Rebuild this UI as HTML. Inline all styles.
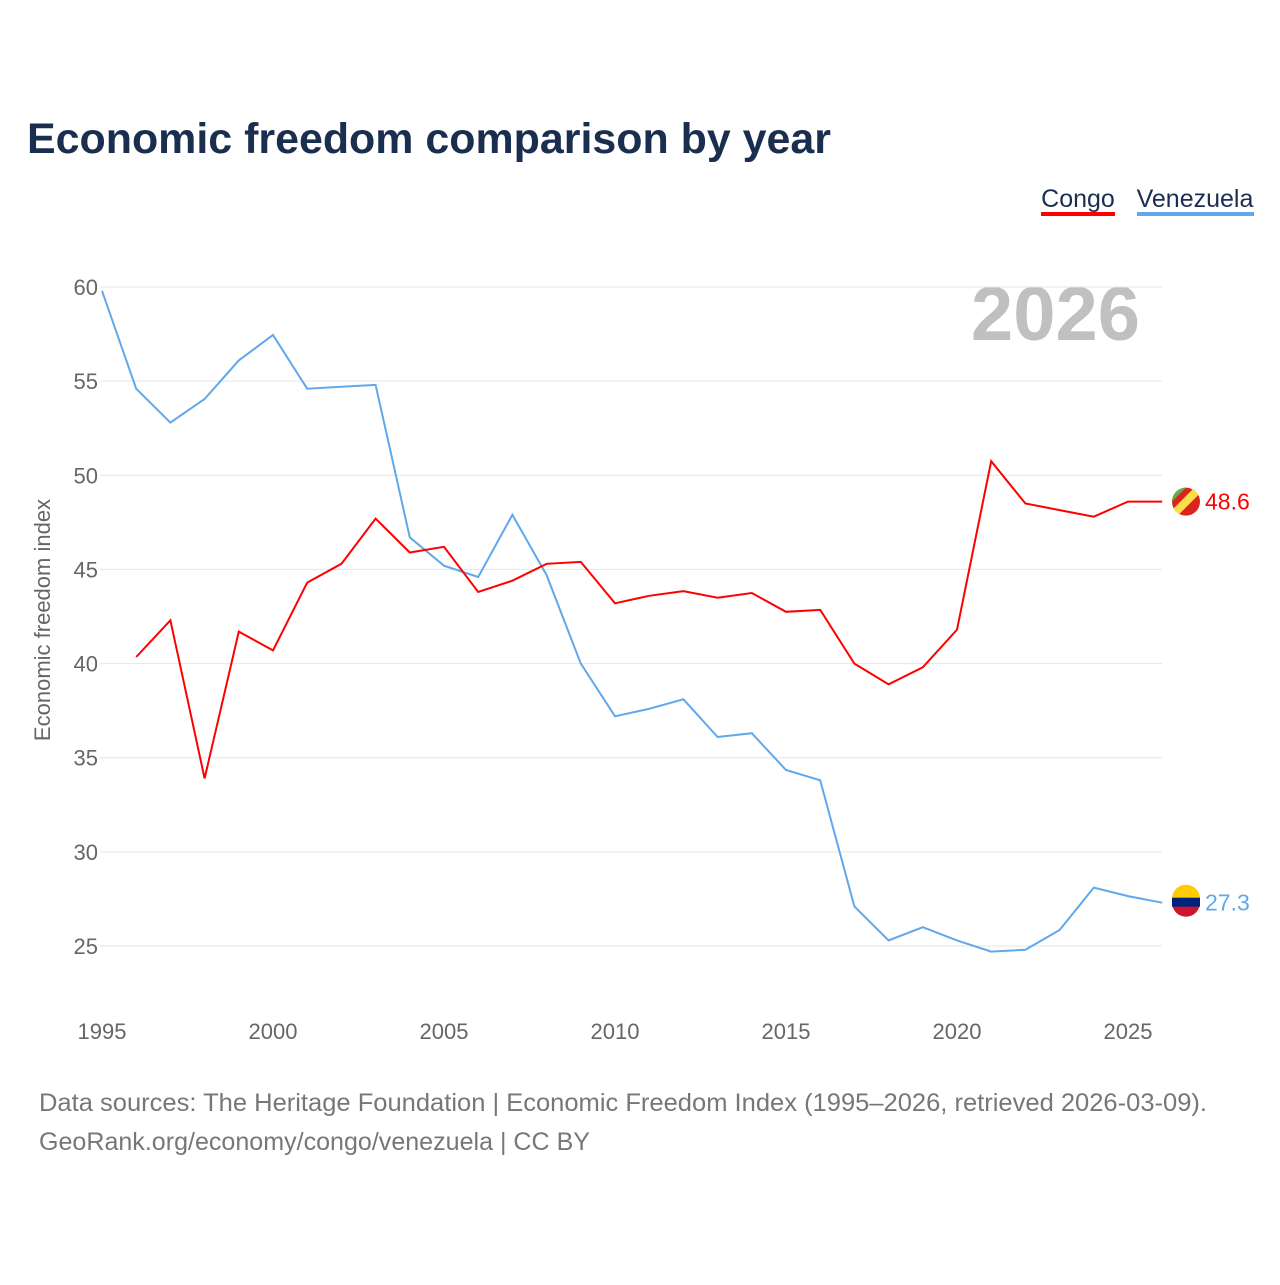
<!DOCTYPE html>
<html><head><meta charset="utf-8"><style>
body{margin:0;background:#fff;font-family:"Liberation Sans",sans-serif}
#wrap{position:relative;width:1280px;height:1280px}
</style></head><body>
<div id="wrap">
<svg id="chart" width="1280" height="1280" xmlns="http://www.w3.org/2000/svg">
<text x="27" y="153" font-size="43" font-weight="bold" fill="#1a2e4f" textLength="804" lengthAdjust="spacingAndGlyphs">Economic freedom comparison by year</text>
<g><text x="1078" y="207" font-size="25" fill="#1a2e4f" text-anchor="middle">Congo</text><rect x="1041" y="212" width="74" height="4" fill="#ff0000"/></g>
<g><text x="1195" y="207" font-size="25" fill="#1a2e4f" text-anchor="middle">Venezuela</text><rect x="1137" y="212" width="117" height="4" fill="#5fa8eb"/></g>
<text x="1140" y="340" font-size="76" font-weight="bold" fill="#c0c0c0" text-anchor="end">2026</text>
<text transform="translate(50,620) rotate(-90)" font-size="22" fill="#666" text-anchor="middle">Economic freedom index</text>
<g id="grid"></g><g id="yt"></g><g id="xt"></g><g id="lines"></g>
<text x="39" y="1111" font-size="25" fill="#777" textLength="1168" lengthAdjust="spacingAndGlyphs">Data sources: The Heritage Foundation | Economic Freedom Index (1995–2026, retrieved 2026-03-09).</text>
<text x="39" y="1150" font-size="25" fill="#777" textLength="551" lengthAdjust="spacingAndGlyphs">GeoRank.org/economy/congo/venezuela | CC BY</text>
</svg></div>
<script>
const years=[];for(let y=1995;y<=2026;y++)years.push(y);
const venezuela=[59.8,54.6,52.8,54.05,56.1,57.45,54.6,54.7,54.8,46.7,45.2,44.6,47.9,44.7,40.0,37.2,37.6,38.1,36.1,36.3,34.35,33.8,27.1,25.3,26.0,25.3,24.7,24.8,25.85,28.1,27.65,27.3];
const congo=[null,40.35,42.3,33.9,41.7,40.7,44.3,45.3,47.7,45.9,46.2,43.8,44.4,45.3,45.4,43.2,43.6,43.85,43.5,43.75,42.75,42.85,40.0,38.9,39.8,41.8,50.75,48.5,48.15,47.8,48.6,48.6];
const yTicks=[25,30,35,40,45,50,55,60];
const xTicks=[1995,2000,2005,2010,2015,2020,2025];
const NS="http://www.w3.org/2000/svg";
const X=y=>102+(y-1995)*(1128-102)/30;
const Y=v=>946-(v-25)*(946-287)/35;
function mk(t,a,p){const e=document.createElementNS(NS,t);for(const k in a)e.setAttribute(k,a[k]);p.appendChild(e);return e;}
const grid=document.getElementById('grid'),yt=document.getElementById('yt'),xt=document.getElementById('xt'),lines=document.getElementById('lines');
yTicks.forEach(v=>{
 const l=mk('line',{x1:100,x2:1162,y1:Y(v),y2:Y(v),stroke:'#e6e6e6','stroke-width':1},grid);
 
 
 const t=mk('text',{x:98,y:Y(v)+8,'font-size':22,fill:'#666','text-anchor':'end'},yt);t.textContent=v;
 
 
});
xTicks.forEach(v=>{
 const t=mk('text',{x:X(v),y:1039,'font-size':22,fill:'#666','text-anchor':'middle'},xt);t.textContent=v;
 
 
});
function line(data,color,name){
 let d='';data.forEach((v,i)=>{if(v==null)return;d+=(d?'L':'M')+X(years[i]).toFixed(1)+','+Y(v).toFixed(1);});
 const p=mk('path',{d:d,fill:'none',stroke:color,'stroke-width':2},lines);
 
 
 const last=data[data.length-1];
 const cy=Y(last);
 const g=mk('g',{},lines);
 
 
 if(name==='congo'){
  mk('circle',{cx:1186,cy:cy,r:14,fill:'#dc241f'},g);
  mk('path',{d:`M1172,${cy} A14,14 0 0 1 1186,${cy-14} L1172,${cy}Z`,fill:'#6aa84f'},g);
  mk('path',{d:`M1176,${cy+10} L1196,${cy-10}`,stroke:'#fbde4a','stroke-width':8},g);
 }else{
  mk('circle',{cx:1186,cy:cy,r:14,fill:'#cf142b'},g);
  mk('path',{d:`M1172,${cy-4} A14,14 0 0 1 1200,${cy-4}Z`,fill:'#ffcc00'},g);
  mk('rect',{x:1172,y:cy-5,width:28,height:9,fill:'#00247d'},g);
 }
 const t=mk('text',{x:1205,y:cy+8,'font-size':23,fill:color},lines);t.textContent=last.toFixed(1);
 
 
}
line(venezuela,'#5fa8eb','venezuela');
line(congo,'#ff0000','congo');
</script>
</body></html>
